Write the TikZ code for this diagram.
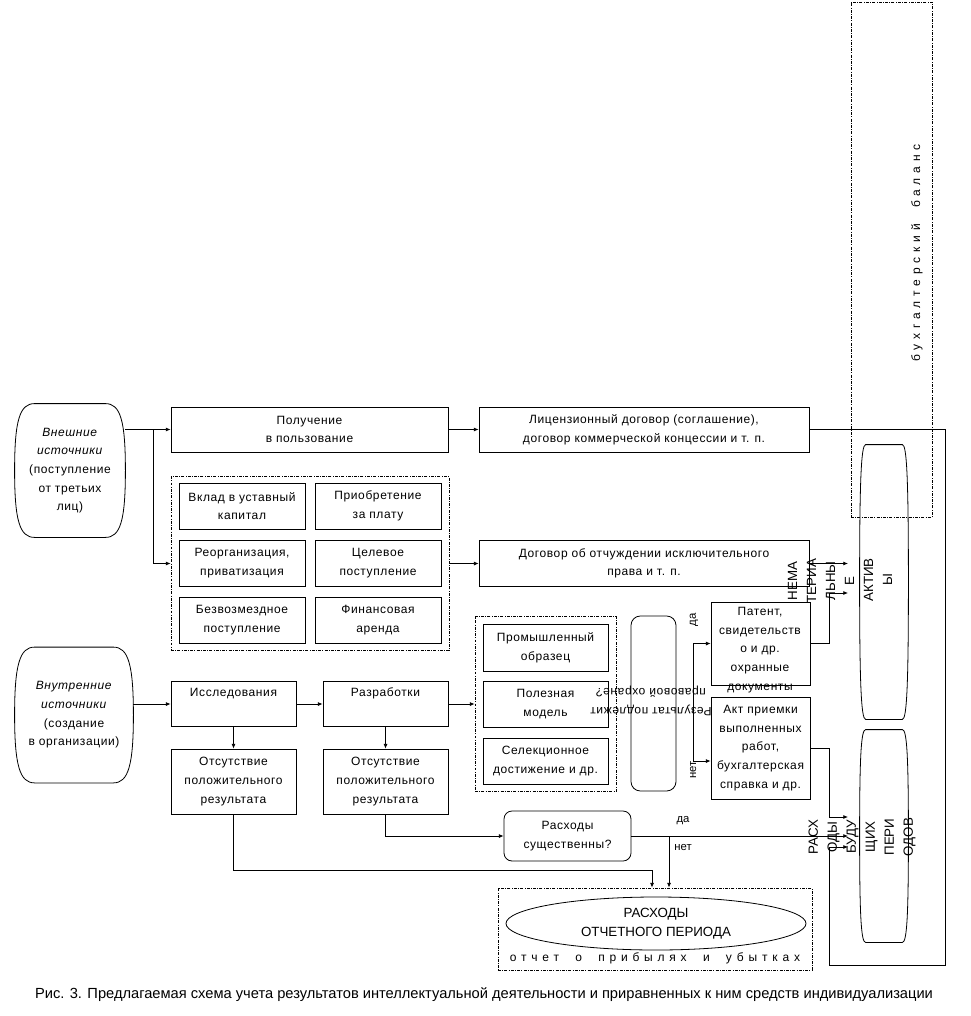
\documentclass[tikz,border=0pt]{standalone}
\usepackage{fontspec}
\setmainfont{Liberation Sans}
\newfontfamily\spaced{Liberation Sans}[LetterSpace=5]
\newfontfamily\wide{Liberation Sans}[LetterSpace=40]
\usetikzlibrary{positioning, shapes.geometric, arrows.meta, calc}
\tikzstyle{arrow} = [-{Latex[length=3.5pt,width=3pt]}]
\tikzstyle{box} = [draw, rectangle, inner sep=1pt, align=center, font=\spaced\fontsize{9}{14}\selectfont]
\tikzstyle{txt} = [inner sep=0pt, align=center, font=\spaced\fontsize{9}{14}\selectfont]
\tikzstyle{group} = [draw, rectangle, dash pattern=on 2.2pt off 1pt on 0.6pt off 1pt]
\tikzstyle{vert} = [rotate=90, inner sep=0pt, align=center, font=\fontsize{10}{14.25}\selectfont]
\tikzstyle{yesno} = [inner sep=0pt, font=\fontsize{8.5}{10}\selectfont]
\tikzset{wh/.style 2 args={minimum width=#1*0.75pt, minimum height=#2*0.75pt}}
% outline with bulging sides round a node
\newcommand{\barrel}[3]{%
  \draw ($(#1.north west)+(#2,0)$) -- ($(#1.north east)+(-#2,0)$)
    .. controls ($(#1.north east)+(-#2/4,0)$) and ($(#1.east)+(0,-#3)$) .. (#1.east)
    .. controls ($(#1.east)+(0,#3)$) and ($(#1.south east)+(-#2/4,0)$) .. ($(#1.south east)+(-#2,0)$)
    -- ($(#1.south west)+(#2,0)$)
    .. controls ($(#1.south west)+(#2/4,0)$) and ($(#1.west)+(0,#3)$) .. (#1.west)
    .. controls ($(#1.west)+(0,-#3)$) and ($(#1.north west)+(#2/4,0)$) .. cycle;}

\begin{document}
\begin{tikzpicture}[x=0.75pt, y=-0.75pt, line width=0.6pt]
        \useasboundingbox (0,0) rectangle (970,1016);
        % sources
        \node[txt, wh={110}{133}] (ext) at (70,470.5) {\textit{Внешние}\\\textit{источники}\\(поступление\\от третьих\\лиц)};
        \barrel{ext}{20}{50}
        \node[txt, wh={118}{135}] (int) at (74,715) {\textit{Внутренние}\\\textit{источники}\\(создание\\в организации)};
        \barrel{int}{20}{50}
        % external branch
        \node[box, wh={277}{45}] (get) at (309.5,429.5) {Получение\\в пользование};
        \node[box, wh={330}{45}] (lic) at (644,429.5) {Лицензионный договор (соглашение),\\договор коммерческой концессии и т. п.};
        \node[group, wh={278}{174}] (grpExt) at (310,563.5) {};
        \node[box, wh={126}{46}] (vklad) at (242,506) {Вклад в уставный\\капитал};
        \node[box, wh={126}{46}] (buy) at (378,506) {Приобретение\\за плату};
        \node[box, wh={126}{46}] (reorg) at (242,563) {Реорганизация,\\приватизация};
        \node[box, wh={126}{46}] (target) at (378,563) {Целевое\\поступление};
        \node[box, wh={126}{46}] (free) at (242,620) {Безвозмездное\\поступление};
        \node[box, wh={126}{46}] (lease) at (378,620) {Финансовая\\аренда};
        \node[box, wh={330}{46}] (dog) at (644,563.5) {Договор об отчуждении исключительного\\права и т. п.};
        % internal branch
        \node[box, wh={125}{45}] (res) at (233.5,704) {Исследования\\\strut};
        \node[box, wh={125}{45}] (dev) at (385.5,704) {Разработки\\\strut};
        \node[box, wh={125}{65}] (abs1) at (233.5,781.5) {Отсутствие\\положительного\\результата};
        \node[box, wh={125}{65}] (abs2) at (385.5,781.5) {Отсутствие\\положительного\\результата};
        \node[group, wh={141}{175}] (grpInt) at (545.5,704) {};
        \node[box, wh={125}{47}] (prom) at (545.5,647.5) {Промышленный\\образец};
        \node[box, wh={125}{46}] (useful) at (545.5,704) {Полезная\\модель};
        \node[box, wh={125}{46}] (sel) at (545.5,761) {Селекционное\\достижение и др.};
        \node[draw, rounded corners=7pt, wh={45}{175}] (legal) at (653.5,703.5) {};
        \node[txt, rotate=180] (legalTxt) at (651,701) {Результат подлежит\\правовой охране?};
        \node[box, wh={99}{83}] (patent) at (760.5,643.5) {};
        \node[txt] (patentTxt) at (760,650) {Патент,\\свидетельств\\о и др.\\охранные\\документы};
        \node[box, wh={99}{102}] (akt) at (760.5,748) {Акт приемки\\выполненных\\работ,\\бухгалтерская\\справка и др.};
        \node[box, draw, rounded corners=6pt, wh={127}{50}] (sig) at (567.5,836) {Расходы\\существенны?};
        % report
        \node[group, wh={314}{82}] (rep) at (655,929) {};
        \node[draw, ellipse, inner sep=0pt, align=center, wh={300}{53}, font=\fontsize{10}{14}\selectfont] (cost) at (656,923.5) {РАСХОДЫ\\ОТЧЕТНОГО ПЕРИОДА};
        \node[txt, font=\wide\fontsize{9}{10}\selectfont] (pl) at (655,958) {отчет\ \ о\ \ прибылях\ \ и\ \ убытках};
        % balance
        \node[group, wh={81}{515}] (bal) at (891.5,259.5) {};
        \node[vert, font=\wide\fontsize{9}{10}\selectfont] (balTxt) at (917,253) {бухгалтерский\ \ баланс};
        \node[wh={48}{274}] (assets) at (884,582) {};
        \barrel{assets}{6}{100}
        \node[wh={48}{212}] (future) at (884,836) {};
        \barrel{future}{6}{80}
        \node[vert] (nema) at (821,581) {НЕМА\\ТЕРИА\\ЛЬНЫ\\Е};
        \node[vert] (aktiv) at (878,580) {АКТИВ\\Ы};
        \node[vert] (rbp) at (862,837) {РАСХ\\ОДЫ\\БУДУ\\ЩИХ\\ПЕРИ\\ОДОВ};
        % arrow ends
        \coordinate (fa) at (848,563.5);
        \coordinate (fb) at (848,593);
        \coordinate (fc) at (848,817);
        \coordinate (fd) at (848,836);
        \coordinate (fe) at (848,847);
        \coordinate (br1) at (153,429.5);
        \coordinate (j1) at (652,870);
        \coordinate (j2) at (669,836);
        \coordinate (j3) at (693,703.5);
        % connectors
        \draw[arrow] (ext.east |- get.west) -- (get.west);
        \draw[arrow] (br1) |- (grpExt.west);
        \draw[arrow] (get) -- (lic);
        \draw[arrow] (grpExt) -- (dog);
        \draw[arrow] (lic.east) -| (945,965) -| ($(fe)+(-19,0)$) -- (fe);
        \draw[arrow] (dog.east) -- (fa);
        \draw[arrow] (patent.east) -- ++(19,0) |- (fb);
        \draw[arrow] (akt.east) -- ++(19,0) |- (fc);
        \draw[arrow] (sig.east) -- (fd);
        \draw[arrow] (int.east |- res.west) -- (res.west);
        \draw[arrow] (res) -- (dev);
        \draw[arrow] (dev) -- (grpInt);
        \draw[arrow] (res) -- (abs1);
        \draw[arrow] (dev) -- (abs2);
        \draw[arrow] (abs2.south) |- (sig.west);
        \draw[arrow] (abs1.south) |- (j1) -- (j1 |- rep.north);
        \draw[arrow] (j2) -- (j2 |- rep.north);
        \draw[arrow] (j3) |- (patent.west);
        \draw[arrow] (j3) |- ($(akt.west)+(0,13)$);
        % labels
        \node[yesno, rotate=90] (yes1) at (694,620) {да};
        \node[yesno, rotate=90] (no1) at (693,770) {нет};
        \node[yesno] (yes2) at (683,821) {да};
        \node[yesno] (no2) at (683,847) {нет};
        \node[inner sep=0pt, font=\fontsize{11}{12}\selectfont] (caption) at (484,995) {Рис. 3. Предлагаемая схема учета результатов интеллектуальной деятельности и приравненных к ним средств индивидуализации};
\end{tikzpicture}
\end{document}
